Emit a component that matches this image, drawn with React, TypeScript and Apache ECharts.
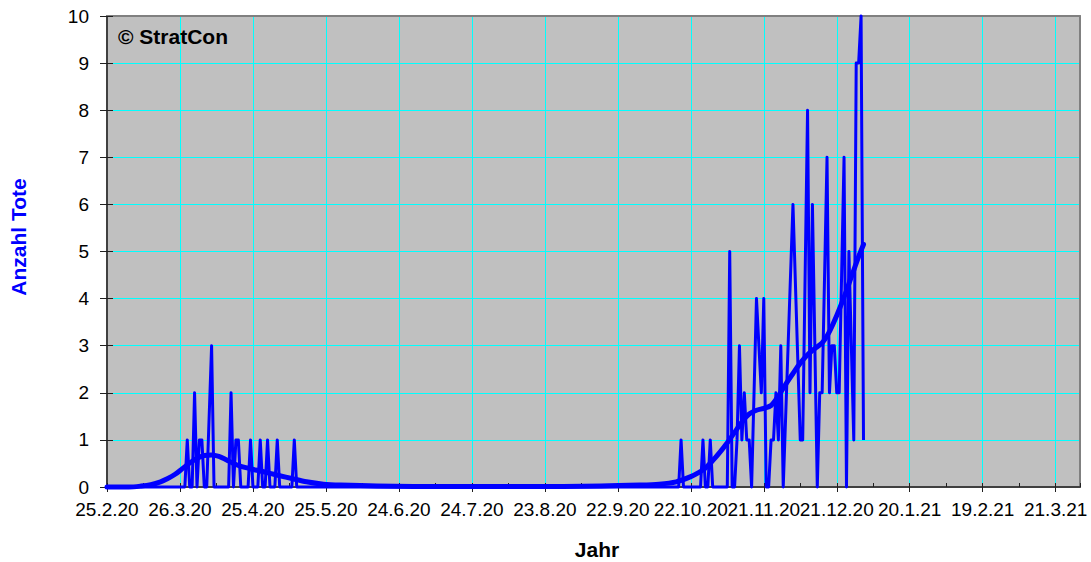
import React, { useEffect, useRef } from "react";
import * as echarts from "echarts";

const FONT = "'Liberation Sans', Arial, Helvetica, sans-serif";

// x tick labels (every 30 days starting 25.2.20)
const tickLabels = [
  "25.2.20", "26.3.20", "25.4.20", "25.5.20", "24.6.20", "24.7.20", "23.8.20",
  "22.9.20", "22.10.20", "21.11.20", "21.12.20", "20.1.21", "19.2.21", "21.3.21",
];

// daily deaths (vertices of the raw line)
const rawDates = [
  "25.2.20", "28.3.20", "29.3.20", "30.3.20", "31.3.20", "1.4.20", "2.4.20", "3.4.20",
  "4.4.20", "5.4.20", "6.4.20", "8.4.20", "9.4.20", "15.4.20", "16.4.20", "17.4.20",
  "18.4.20", "19.4.20", "20.4.20", "23.4.20", "24.4.20", "25.4.20", "27.4.20", "28.4.20",
  "29.4.20", "30.4.20", "1.5.20", "2.5.20", "4.5.20", "5.5.20", "6.5.20", "11.5.20",
  "12.5.20", "13.5.20",
  "17.10.20", "18.10.20", "19.10.20", "26.10.20", "27.10.20", "28.10.20", "29.10.20",
  "30.10.20", "31.10.20", "6.11.20", "7.11.20", "8.11.20", "9.11.20", "10.11.20",
  "11.11.20", "12.11.20", "13.11.20", "14.11.20", "15.11.20", "16.11.20", "18.11.20",
  "20.11.20", "21.11.20", "22.11.20", "23.11.20", "24.11.20", "25.11.20", "26.11.20",
  "27.11.20", "28.11.20", "29.11.20", "1.12.20", "3.12.20", "6.12.20", "7.12.20",
  "9.12.20", "10.12.20", "11.12.20", "13.12.20", "14.12.20", "15.12.20", "17.12.20",
  "18.12.20", "19.12.20", "20.12.20", "21.12.20", "22.12.20", "24.12.20", "25.12.20",
  "26.12.20", "28.12.20", "29.12.20", "30.12.20", "31.12.20", "1.1.21",
];
const rawValues = [
  0, 0, 1, 0, 0, 2, 0, 1,
  1, 0, 0, 3, 0, 0, 2, 0,
  1, 1, 0, 0, 1, 0, 0, 1,
  0, 0, 1, 0, 0, 1, 0, 0,
  1, 0,
  0, 1, 0, 0, 1, 0, 0,
  1, 0, 0, 5, 0, 0, 1,
  3, 1, 2, 1, 1, 0, 4,
  2, 4, 0, 0, 1, 1, 2,
  1, 3, 0, 3, 6, 1, 1,
  8, 2, 6, 0, 2, 2, 7,
  2, 3, 3, 2, 2, 7, 0,
  5, 1, 9, 9, 10, 1,
];

// smoothed trend line
const smoothDates = [
  "25.2.20", "5.3.20", "10.3.20", "14.3.20", "18.3.20", "21.3.20", "24.3.20", "27.3.20",
  "30.3.20", "2.4.20", "5.4.20", "8.4.20", "11.4.20", "14.4.20", "17.4.20", "20.4.20",
  "23.4.20", "26.4.20", "29.4.20", "2.5.20", "6.5.20", "11.5.20", "17.5.20", "24.5.20",
  "31.5.20", "15.6.20", "15.7.20", "15.8.20", "15.9.20", "1.10.20", "9.10.20", "16.10.20",
  "22.10.20", "25.10.20", "28.10.20", "31.10.20", "3.11.20", "6.11.20", "9.11.20",
  "12.11.20", "15.11.20", "18.11.20", "21.11.20", "24.11.20", "27.11.20", "30.11.20",
  "3.12.20", "6.12.20", "9.12.20", "12.12.20", "15.12.20", "18.12.20", "21.12.20",
  "24.12.20", "27.12.20", "30.12.20", "1.1.21",
];
const smoothValues = [
  0.0, 0.0, 0.02, 0.05, 0.11, 0.18, 0.27, 0.39,
  0.51, 0.61, 0.67, 0.68, 0.65, 0.58, 0.5, 0.44,
  0.4, 0.36, 0.33, 0.29, 0.24, 0.18, 0.11, 0.06,
  0.04, 0.02, 0.01, 0.01, 0.02, 0.04, 0.06, 0.11,
  0.22, 0.3, 0.4, 0.56, 0.74, 0.94, 1.16,
  1.38, 1.55, 1.63, 1.67, 1.73, 1.93, 2.18,
  2.41, 2.63, 2.81, 2.94, 3.06, 3.3, 3.64,
  4.03, 4.46, 4.89, 5.15,
];

const START = Date.UTC(2020, 1, 25);
function dayOf(s: string): number {
  const [d, m, y] = s.split(".").map(Number);
  return Math.round((Date.UTC(2000 + y, m - 1, d) - START) / 86400000);
}

export default function App() {
  const ref = useRef<HTMLDivElement>(null);

  useEffect(() => {
    document.body.style.margin = "0";
    if (!ref.current) return;
    const chart = echarts.init(ref.current, null, { renderer: "svg" });

    const rawData = rawDates.map((d, i) => [dayOf(d), rawValues[i]]);
    const smoothData = smoothDates.map((d, i) => [dayOf(d), smoothValues[i]]);

    const option: any = {
      animation: false,
      backgroundColor: "#ffffff",
      textStyle: { fontFamily: FONT },
      grid: {
        left: 107,
        right: 11,
        top: 16,
        bottom: 75,
        show: true,
        backgroundColor: "#C0C0C0",
        borderWidth: 0,
      },
      xAxis: [
        {
          type: "value",
          position: "bottom",
          min: 0,
          max: 400,
          interval: 30,
          axisLine: { show: true, onZero: false, lineStyle: { color: "#404040", width: 2 } },
          axisTick: { show: true, length: 5, lineStyle: { color: "#202020", width: 1 } },
          axisLabel: {
            fontSize: 19,
            color: "#000",
            margin: 13,
            fontFamily: FONT,
            showMaxLabel: false,
            formatter: (v: number) => (v % 30 === 0 && tickLabels[v / 30]) || "",
          },
          splitLine: {
            show: true,
            showMinLine: false,
            showMaxLine: false,
            lineStyle: { color: "#00FFFF", width: 1 },
          },
        },
        {
          type: "value",
          position: "bottom",
          min: 0,
          max: 400,
          interval: 15,
          axisLine: { show: false, onZero: false },
          axisTick: { show: true, inside: true, length: 4, lineStyle: { color: "#202020", width: 1 } },
          axisLabel: { show: false },
          splitLine: { show: false },
        },
        {
          type: "value",
          position: "top",
          min: 0,
          max: 400,
          axisLine: { show: true, onZero: false, lineStyle: { color: "#808080", width: 2 } },
          axisTick: { show: false },
          axisLabel: { show: false },
          splitLine: { show: false },
        },
      ],
      yAxis: [
        {
          type: "value",
          position: "left",
          min: 0,
          max: 10,
          interval: 1,
          axisLine: { show: true, onZero: false, lineStyle: { color: "#404040", width: 2 } },
          axisTick: { show: true, length: 7, lineStyle: { color: "#202020", width: 1 } },
          axisLabel: { fontSize: 19, color: "#000", margin: 18, fontFamily: FONT },
          splitLine: {
            show: true,
            showMinLine: false,
            showMaxLine: false,
            lineStyle: { color: "#00FFFF", width: 1 },
          },
        },
        {
          type: "value",
          position: "left",
          min: 0,
          max: 10,
          interval: 1,
          axisLine: { show: false, onZero: false },
          axisTick: { show: true, inside: true, length: 6, lineStyle: { color: "#202020", width: 1 } },
          axisLabel: { show: false },
          splitLine: { show: false },
        },
        {
          type: "value",
          position: "right",
          min: 0,
          max: 10,
          axisLine: { show: true, onZero: false, lineStyle: { color: "#808080", width: 2 } },
          axisTick: { show: false },
          axisLabel: { show: false },
          splitLine: { show: false },
        },
      ],
      series: [
        {
          type: "line",
          name: "Tote",
          xAxisIndex: 0,
          yAxisIndex: 0,
          data: rawData,
          symbol: "none",
          showSymbol: false,
          clip: false,
          z: 3,
          lineStyle: { color: "#0000FF", width: 3, join: "round" },
        },
        {
          type: "line",
          name: "Trend",
          xAxisIndex: 0,
          yAxisIndex: 0,
          data: smoothData,
          smooth: 0.3,
          symbol: "none",
          showSymbol: false,
          clip: false,
          z: 4,
          lineStyle: { color: "#0000FF", width: 5, cap: "round", join: "round" },
        },
      ],
      graphic: [
        {
          type: "text",
          x: 118,
          y: 36,
          z: 100,
          style: {
            text: "© StratCon",
            fontFamily: FONT,
            fontSize: 21,
            fontWeight: "bold",
            fill: "#000",
            align: "left",
            verticalAlign: "middle",
          },
        },
        {
          type: "text",
          x: 597,
          y: 549,
          z: 100,
          style: {
            text: "Jahr",
            fontFamily: FONT,
            fontSize: 21,
            fontWeight: "bold",
            fill: "#000",
            align: "center",
            verticalAlign: "middle",
          },
        },
        {
          type: "text",
          x: 18,
          y: 237,
          rotation: Math.PI / 2,
          z: 100,
          style: {
            text: "Anzahl Tote",
            fontFamily: FONT,
            fontSize: 21,
            fontWeight: "bold",
            fill: "#0000FF",
            align: "center",
            verticalAlign: "middle",
          },
        },
      ],
    };

    chart.setOption(option);
    return () => chart.dispose();
  }, []);

  return <div ref={ref} style={{ width: 1091, height: 562 }} />;
}
